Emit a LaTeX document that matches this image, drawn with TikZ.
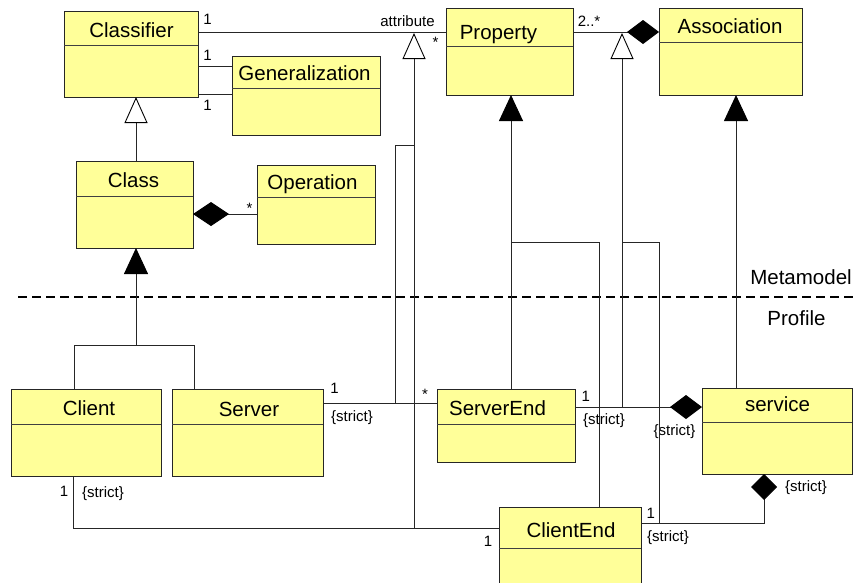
\documentclass[tikz,border=0pt]{standalone}
\usepackage{fontspec}
\setmainfont{Liberation Sans}
\usetikzlibrary{arrows.meta}
\definecolor{clsfill}{HTML}{FFFF99}

\begin{document}
\begin{tikzpicture}[x=1pt,y=-1pt,
  cls/.style={draw=black!85, fill=clsfill, line width=1pt, inner sep=0pt, outer sep=0pt},
  divider/.style={draw=black!75, line width=1pt},
  title/.style={anchor=base, inner sep=0pt, font=\fontsize{20.5}{24}\selectfont},
  lbl/.style={anchor=base, inner sep=0pt, font=\fontsize{15}{18}\selectfont},
  conn/.style={draw=black!85, line width=0.9pt},
  ext/.style={conn, -{Triangle[length=26pt,width=24pt,color=black]}},
  gen/.style={conn, -{Triangle[open,fill=white,length=26pt,width=23pt,color=black]}},
  comp/.style={conn, -{Diamond[length=32pt,width=24pt,color=black]}},
]
\useasboundingbox (0,0) rectangle (858,582);
\fill[white] (0,0) rectangle (858,582);
\clip (0,0) rectangle (858,582);

% ---------- classes ----------
\node[cls, minimum width=134, minimum height=86] (classifier) at (131,54) {};
\node[cls, minimum width=148, minimum height=79] (generalization) at (306,95.5) {};
\node[cls, minimum width=127, minimum height=87] (property) at (509.5,51.5) {};
\node[cls, minimum width=143, minimum height=87] (association) at (730.5,51.5) {};
\node[cls, minimum width=117, minimum height=87] (class) at (134.5,204.5) {};
\node[cls, minimum width=118, minimum height=79] (operation) at (316,204.5) {};
\node[cls, minimum width=150, minimum height=87] (client) at (86,432.5) {};
\node[cls, minimum width=151, minimum height=87] (server) at (247.5,432.5) {};
\node[cls, minimum width=138, minimum height=73] (serverend) at (506,425.5) {};
\node[cls, minimum width=150, minimum height=86] (service) at (777,431) {};
\node[cls, minimum width=142, minimum height=90] (clientend) at (570,552) {};

% compartment dividers
\draw[divider] (classifier.west |- 0,45) -- (classifier.east |- 0,45);
\draw[divider] (generalization.west |- 0,88) -- (generalization.east |- 0,88);
\draw[divider] (property.west |- 0,46) -- (property.east |- 0,46);
\draw[divider] (association.west |- 0,42) -- (association.east |- 0,42);
\draw[divider] (class.west |- 0,196) -- (class.east |- 0,196);
\draw[divider] (operation.west |- 0,197) -- (operation.east |- 0,197);
\draw[divider] (client.west |- 0,424) -- (client.east |- 0,424);
\draw[divider] (server.west |- 0,424) -- (server.east |- 0,424);
\draw[divider] (serverend.west |- 0,424) -- (serverend.east |- 0,424);
\draw[divider] (service.west |- 0,422) -- (service.east |- 0,422);
\draw[divider] (clientend.west |- 0,548) -- (clientend.east |- 0,548);

% class names
\node[title] (classifier-t) at (131.5,37) {Classifier};
\node[title] (generalization-t) at (304.5,80.5) {Generalization};
\node[title] (property-t) at (498.5,39.5) {Property};
\node[title] (association-t) at (730,33.5) {Association};
\node[title] (class-t) at (133.5,187.5) {Class};
\node[title] (operation-t) at (312.5,189) {Operation};
\node[title] (client-t) at (89,415) {Client};
\node[title] (server-t) at (249,416.5) {Server};
\node[title] (serverend-t) at (497.5,415) {ServerEnd};
\node[title] (service-t) at (777.5,411.5) {service};
\node[title] (clientend-t) at (571,537.5) {ClientEnd};

% ---------- metamodel / profile separator ----------
\coordinate (sepL) at (18,297);
\coordinate (sepR) at (858,297);
\draw[black, line width=2pt, dash pattern=on 9pt off 5pt] (sepL) -- (sepR);
\node[title] (meta) at (801,284) {Metamodel};
\node[title] (prof) at (796.5,325) {Profile};

% ---------- metamodel connectors ----------
\draw[conn] (classifier.east |- 0,32) -- (property.west |- 0,32);
\node[lbl] (l1) at (207.5,24.7) {1};
\node[lbl] (l2) at (407.5,26) {attribute};
\node[lbl] (l3) at (435.5,47.7) {*};

\draw[conn] (classifier.east |- 0,66) -- (generalization.west |- 0,66);
\draw[conn] (classifier.east |- 0,94) -- (generalization.west |- 0,94);
\node[lbl] (l4) at (207.5,60.7) {1};
\node[lbl] (l5) at (207.5,110) {1};

\draw[comp] (property.east |- 0,32) -- (association.west |- 0,32);
\node[lbl] (l6) at (589,26.7) {2..*};

\draw[gen] (class.north -| 136,0) -- (classifier.south -| 136,0);

\draw[conn, -{Diamond[length=36pt,width=24pt,color=black]}] (operation.west |- 0,214) -- (class.east |- 0,214);
\node[lbl] (l7) at (249.5,213.7) {*};

% ---------- extensions ----------
\coordinate (jcs) at (136,345);
\draw[conn] (client.north -| 74,0) |- (jcs) -| (server.north -| 194,0);
\draw[ext] (jcs) -- (class.south -| 136,0);

\coordinate (jce) at (511,242);
\draw[ext] (serverend.north -| 511,0) -- (property.south -| 511,0);
\draw[conn] (clientend.north -| 599,0) |- (jce);

\draw[ext] (service.north -| 736,0) -- (association.south -| 736,0);

% ---------- profile associations ----------
\draw[conn] (server.east |- 0,403) -- (serverend.west |- 0,403);
\node[lbl] (l8) at (334.5,393.3) {1};
\node[lbl] (l9) at (352,421) {\{strict\}};
\node[lbl] (l10) at (425,399.4) {*};

\draw[comp] (serverend.east |- 0,407) -- (service.west |- 0,407);
\node[lbl] (l11) at (585.7,401.7) {1};
\node[lbl] (l12) at (604,424.5) {\{strict\}};
\node[lbl] (l13) at (674.5,435.5) {\{strict\}};

\draw[conn] (client.south -| 73,0) |- (clientend.west |- 0,528);
\node[lbl] (l14) at (64,496.7) {1};
\node[lbl] (l15) at (103,497.5) {\{strict\}};
\node[lbl] (l16) at (488,546) {1};

\draw[conn, -{Diamond[length=26pt,width=26pt,color=black]}] (clientend.east |- 0,523) -| (service.south -| 764,0);
\node[lbl] (l17) at (806,491) {\{strict\}};
\node[lbl] (l18) at (650.7,518.3) {1};
\node[lbl] (l19) at (668,541.5) {\{strict\}};

% ---------- association generalizations ----------
\coordinate (ga) at (414,33);
\coordinate (gaBase) at (414,528);
\coordinate (gaBranch) at (414,145);
\draw[gen] (gaBase) -- (ga);
\draw[conn] (395,403) |- (gaBranch);

\coordinate (gb) at (622,33);
\coordinate (gbBase) at (622,407);
\coordinate (gbBranch) at (622,242);
\draw[gen] (gbBase) -- (gb);
\draw[conn] (659,523) |- (gbBranch);
\end{tikzpicture}
\end{document}
